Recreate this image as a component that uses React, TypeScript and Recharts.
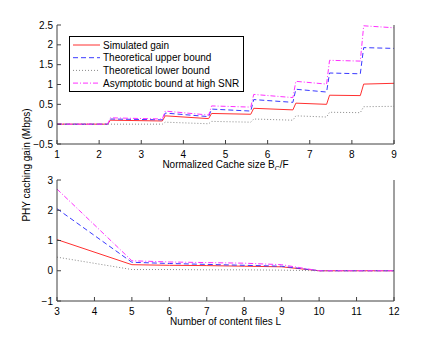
import React from 'react';
import { LineChart, Line, XAxis, YAxis, Legend } from 'recharts';

// top panel: gain vs normalized cache size
const cacheSize = [1, 2.2, 2.27, 3.5, 3.57, 4.6, 4.67, 5.6, 5.67, 6.6, 6.67, 7.4, 7.47, 8.2, 8.28, 9];
const simulatedGain = [0, 0, 0.1, 0.08, 0.21, 0.14, 0.27, 0.25, 0.4, 0.36, 0.53, 0.5, 0.73, 0.72, 1.01, 1.03];
const upperBound = [0, 0, 0.13, 0.11, 0.28, 0.19, 0.38, 0.33, 0.62, 0.55, 0.88, 0.81, 1.29, 1.27, 1.93, 1.91];
const lowerBound = [0, 0, 0, 0, 0.05, 0.01, 0.07, 0.05, 0.13, 0.1, 0.21, 0.18, 0.3, 0.29, 0.44, 0.45];
const asymptoticBound = [0, 0, 0.16, 0.13, 0.33, 0.23, 0.46, 0.43, 0.75, 0.67, 1.08, 1.01, 1.61, 1.59, 2.48, 2.43];

const cacheTicks = [1, 2, 3, 4, 5, 6, 7, 8, 9];
const gainTicksTop = [-0.5, 0, 0.5, 1, 1.5, 2, 2.5];

// bottom panel: gain vs number of content files
const contentFiles = [3, 5, 6, 7, 8, 9, 10, 11, 12];
const simulatedByFiles = [1.03, 0.2, 0.18, 0.17, 0.15, 0.13, 0, 0, 0];
const upperByFiles = [2.05, 0.28, 0.24, 0.21, 0.18, 0.15, 0, 0, 0];
const lowerByFiles = [0.45, 0.04, 0.04, 0.03, 0.03, 0.02, 0, 0, 0];
const asymptoticByFiles = [2.7, 0.33, 0.29, 0.27, 0.25, 0.2, 0, 0, 0];

const fileTicks = [3, 4, 5, 6, 7, 8, 9, 10, 11, 12];
const gainTicksBottom = [-1, 0, 1, 2, 3];

const series = [
  { key: 'sim', name: 'Simulated gain', color: '#ff3030', dash: undefined },
  { key: 'upper', name: 'Theoretical upper bound', color: '#3a3aff', dash: '5 3' },
  { key: 'lower', name: 'Theoretical lower bound', color: '#8a8a8a', dash: '1 2' },
  { key: 'asym', name: 'Asymptotic bound at high SNR', color: '#ff30ff', dash: '5 2 1 2' },
];

const topData = cacheSize.map((x, i) => ({
  x,
  sim: simulatedGain[i],
  upper: upperBound[i],
  lower: lowerBound[i],
  asym: asymptoticBound[i],
}));

const bottomData = contentFiles.map((x, i) => ({
  x,
  sim: simulatedByFiles[i],
  upper: upperByFiles[i],
  lower: lowerByFiles[i],
  asym: asymptoticByFiles[i],
}));

const FONT = '"Liberation Sans", Arial, sans-serif';
const AXIS = '#404040';
const fmt = (v: number) => (v < 0 ? '\u2212' + Math.abs(v) : String(v));

const noTick = () => <g />;

// tick labels drawn by hand so they sit outside the inward tick marks
const YTick = (props: any) => {
  const { x, y, payload } = props;
  return (
    <text x={x} y={y} dy={3.5} textAnchor="end" fontSize={10} fontFamily={FONT} fill="#000">
      {fmt(payload.value)}
    </text>
  );
};

const XTick = (props: any) => {
  const { x, y, payload } = props;
  return (
    <text x={x} y={y} dy={7.5} textAnchor="middle" fontSize={10} fontFamily={FONT} fill="#000">
      {payload.value}
    </text>
  );
};

const LegendBox = () => (
  <svg width={175} height={56} style={{ display: 'block' }}>
    <rect x={0.5} y={0.5} width={174} height={55} fill="#fff" stroke="#000" strokeWidth={1} />
    {series.map((s, i) => {
      const cy = 9 + i * 12.7;
      return (
        <g key={s.key}>
          <line x1={4} x2={31} y1={cy} y2={cy} stroke={s.color} strokeDasharray={s.dash} />
          <text x={34} y={cy + 3.5} fontSize={10} fontFamily={FONT} fill="#000">
            {s.name}
          </text>
        </g>
      );
    })}
  </svg>
);

const axisLabel = (content: React.ReactNode) => (props: any) => {
  const vb = props.viewBox || {};
  const cx = (vb.x ?? 57) + (vb.width ?? 337) / 2;
  const y = (vb.y ?? 0) + 23.5;
  return (
    <text x={cx} y={y} textAnchor="middle" fontSize={10} fontFamily={FONT} fill="#000">
      {content}
    </text>
  );
};

function Panel({
  data,
  height,
  margin,
  xDomain,
  xTicks,
  yDomain,
  yTicks,
  label,
  legend,
}: any) {
  return (
    <LineChart width={436} height={height} data={data} margin={margin}>
      <XAxis
        dataKey="x"
        type="number"
        domain={xDomain}
        ticks={xTicks}
        interval={0}
        height={26}
        tickSize={-4}
        tickMargin={10}
        tick={<XTick />}
        stroke={AXIS}
        label={{ content: axisLabel(label) }}
      />
      <XAxis
        xAxisId="top"
        dataKey="x"
        type="number"
        orientation="top"
        domain={xDomain}
        ticks={xTicks}
        interval={0}
        height={0}
        tickSize={-4}
        tick={noTick}
        stroke={AXIS}
      />
      <YAxis
        type="number"
        domain={yDomain}
        ticks={yTicks}
        interval={0}
        allowDataOverflow
        width={57}
        tickSize={-4}
        tickMargin={8}
        tick={<YTick />}
        stroke={AXIS}
      />
      <YAxis
        yAxisId="right"
        type="number"
        orientation="right"
        domain={yDomain}
        ticks={yTicks}
        interval={0}
        width={42}
        tickSize={-4}
        tick={noTick}
        stroke={AXIS}
      />
      {legend && (
        <Legend
          layout="vertical"
          align="center"
          verticalAlign="middle"
          wrapperStyle={{ left: 69, top: 36, width: 175, height: 56 }}
          content={() => <LegendBox />}
        />
      )}
      {series.map((s) => (
        <Line
          key={s.key}
          dataKey={s.key}
          name={s.name}
          type="linear"
          stroke={s.color}
          strokeWidth={1}
          strokeDasharray={s.dash}
          dot={false}
          activeDot={false}
          isAnimationActive={false}
        />
      ))}
    </LineChart>
  );
}

export default function App() {
  return (
    <div
      style={{
        position: 'absolute',
        left: 0,
        top: 0,
        width: 436,
        height: 339,
        background: '#fff',
        fontFamily: FONT,
      }}
    >
      <div style={{ position: 'absolute', left: 0, top: 0, width: 436, height: 170 }}>
        <Panel
          data={topData}
          height={170}
          margin={{ top: 25, right: 0, bottom: 0, left: 0 }}
          xDomain={[1, 9]}
          xTicks={cacheTicks}
          yDomain={[-0.5, 2.5]}
          yTicks={gainTicksTop}
          legend
          label={
            <>
              Normalized Cache size B
              <tspan dy={3} fontSize={7}>C</tspan>
              <tspan dy={-3}>/F</tspan>
            </>
          }
        />
      </div>
      <div style={{ position: 'absolute', left: 0, top: 170, width: 436, height: 169 }}>
        <Panel
          data={bottomData}
          height={169}
          margin={{ top: 10, right: 0, bottom: 12, left: 0 }}
          xDomain={[3, 12]}
          xTicks={fileTicks}
          yDomain={[-1, 3]}
          yTicks={gainTicksBottom}
          label="Number of content files L"
        />
      </div>
      <svg
        width={436}
        height={339}
        style={{ position: 'absolute', left: 0, top: 0, pointerEvents: 'none' }}
      >
        <text
          x={30}
          y={165}
          transform="rotate(-90 30 165)"
          textAnchor="middle"
          fontSize={10}
          fontFamily={FONT}
          fill="#000"
        >
          PHY caching gain (Mbps)
        </text>
      </svg>
    </div>
  );
}
